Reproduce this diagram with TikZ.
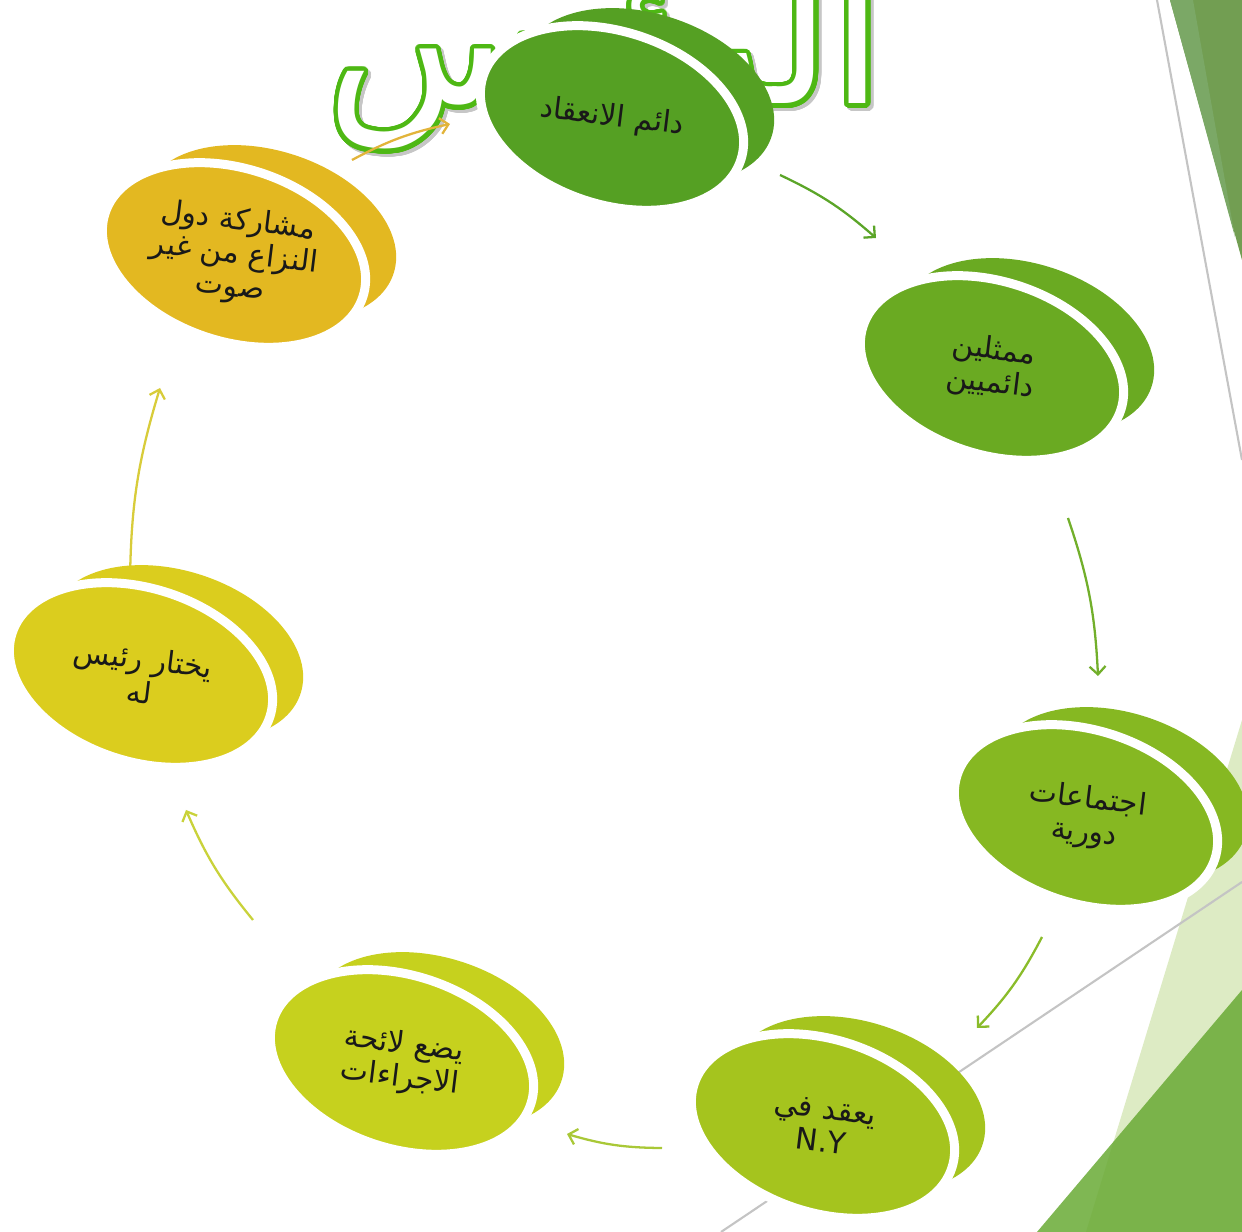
\documentclass[tikz,border=0pt]{standalone}
\usepackage{fontspec}
\usepackage{contour}
\usetikzlibrary{shapes.geometric, arrows.meta}
\TeXXeTstate=1
\newfontfamily\arabicfont[Script=Arabic]{DejaVu Sans}
\newcommand{\artext}[1]{\beginR #1\endR}
\contourlength{2.5pt}
\contournumber{48}

\definecolor{cOne}{RGB}{85,160,35}
\definecolor{cTwo}{RGB}{106,170,34}
\definecolor{cThree}{RGB}{134,184,34}
\definecolor{cFour}{RGB}{165,196,30}
\definecolor{cFive}{RGB}{198,209,30}
\definecolor{cSix}{RGB}{219,205,30}
\definecolor{cSeven}{RGB}{227,184,33}
\definecolor{aOne}{RGB}{91,165,40}
\definecolor{aTwo}{RGB}{114,175,43}
\definecolor{aThree}{RGB}{138,188,42}
\definecolor{aFour}{RGB}{169,200,55}
\definecolor{aFive}{RGB}{201,210,58}
\definecolor{aSix}{RGB}{216,204,58}
\definecolor{aSeven}{RGB}{226,180,58}
\definecolor{titlegreen}{RGB}{78,184,20}
\definecolor{edgegrey}{RGB}{196,196,196}
\definecolor{palegreen}{RGB}{221,235,196}
\definecolor{leafgreen}{RGB}{105,170,53}
\definecolor{topgreen}{RGB}{114,158,82}
\definecolor{topgreenlight}{RGB}{123,168,102}

\tikzset{
  backdisc/.style = {ellipse, minimum width = 5.24cm, minimum height = 3.28cm,
    inner sep = 0pt, rotate = -18, fill = #1},
  frontdisc/.style = {ellipse, minimum width = 5.42cm, minimum height = 3.46cm,
    inner sep = 0pt, rotate = -18, fill = #1, draw = white, line width = 0.18cm},
  disclabel/.style = {font = \arabicfont\fontsize{17}{19}\selectfont,
    align = center, rotate = -7, text = black!90},
  cyclearrow/.style = {-{Straight Barb[length = 1.6mm, width = 3.2mm]},
    line width = 1.3pt, draw = #1},
}

\begin{document}
\begin{tikzpicture}
    \clip (0,0) rectangle (24.84,24.64);
    % background
    \fill[topgreen] (23.40,24.64) -- (24.84,24.64) -- (24.84,19.44) -- cycle;
    \fill[topgreenlight] (23.40,24.64) -- (23.86,24.64) -- (24.70,19.90) -- cycle;
    \draw[edgegrey, line width = 1.2pt] (23.14,24.64) -- (24.84,15.44);
    \fill[palegreen] (24.84,10.24) -- (21.72,0) -- (24.84,0) -- cycle;
    \fill[leafgreen, opacity = .85] (24.84,4.84) -- (20.74,0) -- (24.84,0) -- cycle;
    \draw[edgegrey, line width = 1.2pt] (14.42,0) -- (24.84,7.00);

    % title
    \node[anchor = base, text = gray!45] (titleshadow) at (12.16,22.50)
      {\arabicfont\fontsize{106}{110}\selectfont\contour{gray!45}{\artext{الرئيس}}};
    \node[anchor = base] (title) at (12.10,22.56)
      {\arabicfont\fontsize{106}{110}\selectfont\contour{titlegreen}{\color{white}\artext{الرئيس}}};

    % arrows
    \coordinate (a1s) at (15.60,21.14);  \coordinate (a1e) at (17.52,19.88);
    \coordinate (a2s) at (21.36,14.28);  \coordinate (a2e) at (21.96,11.12);
    \coordinate (a3s) at (20.84,5.90);   \coordinate (a3e) at (19.54,4.08);
    \coordinate (a4s) at (13.24,1.68);   \coordinate (a4e) at (11.34,1.96);
    \coordinate (a5s) at (5.06,6.24);    \coordinate (a5e) at (3.72,8.44);
    \coordinate (a6s) at (2.60,13.04);   \coordinate (a6e) at (3.20,16.88);
    \coordinate (a7s) at (7.04,21.44);   \coordinate (a7e) at (9.00,22.16);
    \draw[cyclearrow = aOne]   (a1s) to[bend left = 8] (a1e);
    \draw[cyclearrow = aTwo]   (a2s) to[bend left = 8] (a2e);
    \draw[cyclearrow = aThree] (a3s) to[bend left = 8] (a3e);
    \draw[cyclearrow = aFour]  (a4s) to[bend left = 8] (a4e);
    \draw[cyclearrow = aFive]  (a5s) to[bend left = 8] (a5e);
    \draw[cyclearrow = aSix]   (a6s) to[bend left = 8] (a6e);
    \draw[cyclearrow = aSeven] (a7s) to[bend left = 8] (a7e);

    % discs
    \node[backdisc = cOne] (n1b) at (12.94,22.72) {};
    \node[frontdisc = cOne] (n1) at (12.24,22.28) {};
    \node[disclabel] (t1) at (n1) {\artext{دائم الانعقاد}};

    \node[backdisc = cTwo] (n2b) at (20.54,17.72) {};
    \node[frontdisc = cTwo] (n2) at (19.84,17.28) {};
    \node[disclabel] (t2) at (n2) {\artext{ممثلين}\\\artext{دائميين}};

    \node[backdisc = cThree] (n3b) at (22.42,8.74) {};
    \node[frontdisc = cThree] (n3) at (21.72,8.30) {};
    \node[disclabel] (t3) at (n3) {\artext{اجتماعات}\\\artext{دورية}};

    \node[backdisc = cFour] (n4b) at (17.16,2.56) {};
    \node[frontdisc = cFour] (n4) at (16.46,2.12) {};
    \node[disclabel] (t4) at (n4) {\artext{يعقد في}\\N.Y};

    \node[backdisc = cFive] (n5b) at (8.74,3.84) {};
    \node[frontdisc = cFive] (n5) at (8.04,3.40) {};
    \node[disclabel] (t5) at (n5) {\artext{يضع لائحة}\\\artext{الاجراءات}};

    \node[backdisc = cSix] (n6b) at (3.52,11.58) {};
    \node[frontdisc = cSix] (n6) at (2.82,11.14) {};
    \node[disclabel] (t6) at (n6) {\artext{يختار رئيس}\\\artext{له}};

    \node[backdisc = cSeven] (n7b) at (5.38,19.98) {};
    \node[frontdisc = cSeven] (n7) at (4.68,19.54) {};
    \node[disclabel] (t7) at (n7) {\artext{مشاركة دول}\\\artext{النزاع من غير}\\\artext{صوت}};
\end{tikzpicture}
\end{document}
